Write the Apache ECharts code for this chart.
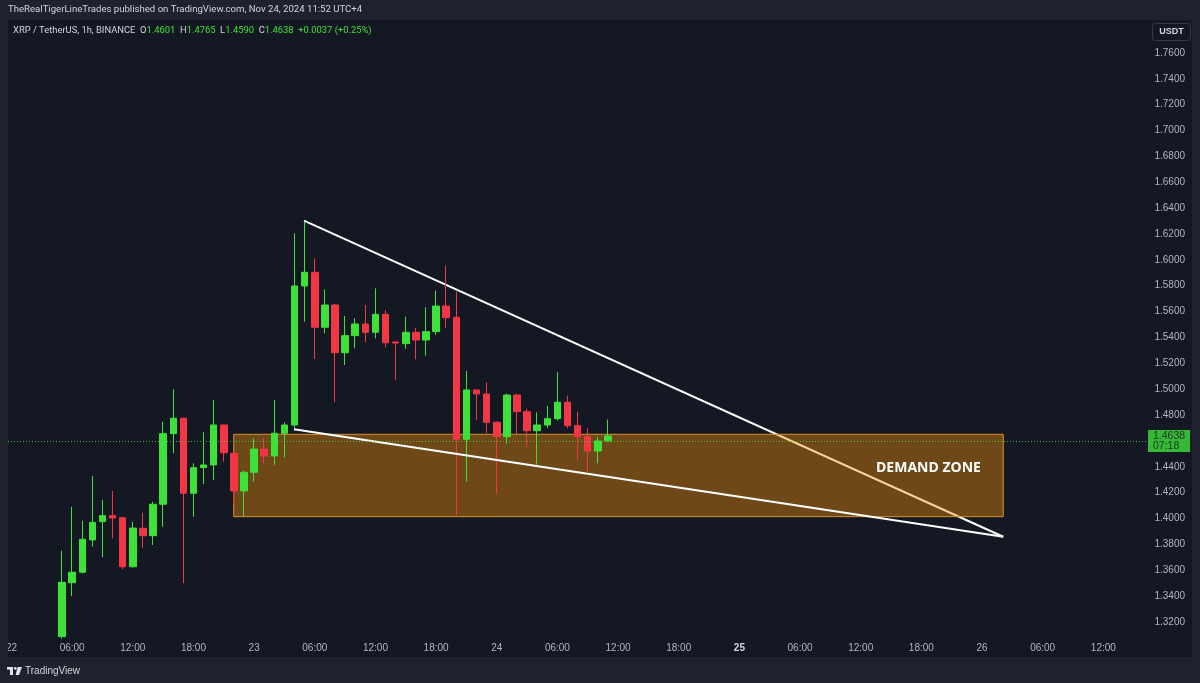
<!DOCTYPE html>
<html><head><meta charset="utf-8">
<script src="https://cdn.jsdelivr.net/npm/echarts@6/dist/echarts.min.js"></script>
<style>html,body{margin:0;padding:0;background:#1f222c}#c{width:1200px;height:683px}</style>
</head><body><div id="c"></div>
<script>
// ---- data (hours counted from Nov 22 00:00, UTC+4) ----
const hours  = [5,6,7,8,9,10,11,12,13,14,15,16,17,18,19,20,21,22,23,24,25,26,27,28,29,30,31,32,33,34,35,36,37,38,39,40,41,42,43,44,45,46,47,48,49,50,51,52,53,54,55,56,57,58,59];
const opens  = [1.3086,1.3503,1.3584,1.3834,1.3975,1.4022,1.4006,1.3627,1.3924,1.3867,1.4110,1.4656,1.4775,1.4195,1.4393,1.4414,1.4723,1.4504,1.4213,1.4357,1.4537,1.4483,1.4659,1.4723,1.5798,1.5904,1.5479,1.5651,1.5282,1.5414,1.5504,1.5440,1.5579,1.5365,1.5352,1.5440,1.5380,1.5445,1.5643,1.5556,1.4612,1.4994,1.4963,1.4744,1.4632,1.4955,1.4826,1.4679,1.4723,1.4772,1.4899,1.4718,1.4632,1.4522,1.4601];
const closes = [1.3506,1.3584,1.3839,1.3970,1.4022,1.4004,1.3627,1.3926,1.3867,1.4110,1.4656,1.4775,1.4195,1.4393,1.4414,1.4723,1.4509,1.4213,1.4357,1.4537,1.4483,1.4659,1.4723,1.5798,1.5904,1.5479,1.5651,1.5282,1.5414,1.5504,1.5440,1.5579,1.5359,1.5357,1.5440,1.5380,1.5445,1.5643,1.5553,1.4612,1.4994,1.4963,1.4744,1.4632,1.4955,1.4826,1.4679,1.4723,1.4772,1.4899,1.4718,1.4632,1.4522,1.4599,1.4638];
const lows   = [1.3070,1.3400,1.3575,1.3782,1.3700,1.3847,1.3607,1.3620,1.3774,1.3795,1.3936,1.4504,1.3499,1.4014,1.4267,1.4298,1.4439,1.4117,1.4019,1.4284,1.4427,1.4414,1.4473,1.4700,1.5522,1.5233,1.5432,1.4899,1.5187,1.5316,1.5363,1.5393,1.5324,1.5071,1.5311,1.5231,1.5259,1.5419,1.5475,1.4027,1.4284,1.4762,1.4659,1.4195,1.4581,1.4653,1.4551,1.4414,1.4700,1.4757,1.4697,1.4452,1.4362,1.4427,1.4590];
const highs  = [1.3751,1.4091,1.3983,1.4329,1.4143,1.4213,1.4010,1.3975,1.4045,1.4130,1.4748,1.4999,1.4780,1.4427,1.4667,1.4916,1.4725,1.4510,1.4370,1.4620,1.4623,1.4916,1.4744,1.6206,1.6295,1.6012,1.5772,1.5660,1.5566,1.5548,1.5651,1.5780,1.5612,1.5370,1.5561,1.5475,1.5633,1.5762,1.5955,1.5754,1.5141,1.4998,1.5053,1.4750,1.4965,1.4965,1.4847,1.4821,1.4870,1.5131,1.4950,1.4826,1.4697,1.4632,1.4765];

const xTickHours  = [0,6,12,18,24,30,36,42,48,54,60,66,72,78,84,90,96,102,108];
const xTickLabels = ['22','06:00','12:00','18:00','23','06:00','12:00','18:00','24','06:00','12:00','18:00','25','06:00','12:00','18:00','26','06:00','12:00'];
const yTickValues = [1.32,1.34,1.36,1.38,1.40,1.42,1.44,1.48,1.50,1.52,1.54,1.56,1.58,1.60,1.62,1.64,1.66,1.68,1.70,1.72,1.74,1.76];

const upperLineHours  = [28.93, 98.1];
const upperLinePrices = [1.6303, 1.3859];
const lowerLineHours  = [27.94, 98.1];
const lowerLinePrices = [1.4690, 1.3859];
const zoneHours  = [21.98, 98.1];
const zonePrices = [1.4014, 1.4651];
const zoneLabelPos = [90.70, 1.4388];
const lastPrice = 1.4638;
const countdown = '07:18';

// ---- styles ----
const GREEN = '#3ee03a', RED = '#f23645', TXT = '#b2b5be';
const FONT = 'Liberation Sans, Arial, sans-serif';
const HFONT = 'Roboto, Liberation Sans, sans-serif';

const chart = echarts.init(document.getElementById('c'), null, {renderer: 'canvas', width: 1200, height: 683});
const candleData = hours.map((h, i) => [h, opens[i], closes[i], lows[i], highs[i]]);
const upperData = upperLineHours.map((h, i) => [h, upperLinePrices[i]]);
const lowerData = lowerLineHours.map((h, i) => [h, lowerLinePrices[i]]);

const option = {
  backgroundColor: '#141823',
  animation: false,
  textStyle: {fontFamily: FONT},
  grid: {left: 8, right: 53, top: 20, bottom: 46},
  xAxis: {
    type: 'value', min: -0.346, max: 112.32,
    splitLine: {show: false}, axisLine: {show: false}, axisTick: {show: false},
    axisLabel: {
      customValues: xTickHours, color: TXT, fontSize: 10, margin: 6, fontFamily: FONT,
      formatter: v => {
        const i = xTickHours.indexOf(Math.round(v));
        const s = i >= 0 ? xTickLabels[i] : '';
        return s === '25' ? '{b|' + s + '}' : s;
      },
      rich: {b: {fontWeight: 'bold', color: '#d1d4dc', fontSize: 10, fontFamily: FONT}}
    }
  },
  yAxis: {
    type: 'value', position: 'right', min: 1.30834, max: 1.78552,
    splitLine: {show: false}, axisLine: {show: false}, axisTick: {show: false},
    axisLabel: {customValues: yTickValues, formatter: v => v.toFixed(4), align: 'right', margin: 38,
      color: TXT, fontSize: 10, fontFamily: FONT}
  },
  series: [
    {
      type: 'line', data: upperData, symbol: 'none', z: 0, silent: true,
      lineStyle: {color: '#ffffff', width: 2},
      markArea: {
        silent: true, z: 1,
        itemStyle: {color: 'rgba(245,148,5,0.40)', borderColor: '#d99028', borderWidth: 1},
        data: [[{coord: [zoneHours[0], zonePrices[1]]}, {coord: [zoneHours[1], zonePrices[0]]}]]
      }
    },
    {
      type: 'candlestick', data: candleData, z: 2, barWidth: 7,
      encode: {x: 0, y: [1, 2, 3, 4]},
      itemStyle: {color: GREEN, color0: RED, borderColor: GREEN, borderColor0: RED, borderWidth: 1},
      markLine: {
        silent: true, symbol: ['none', 'none'], z: 5,
        lineStyle: {type: [1, 2], color: GREEN, width: 1, opacity: 0.8},
        label: {
          position: 'end', distance: 1, formatter: lastPrice.toFixed(4) + '\n' + countdown,
          backgroundColor: GREEN, color: '#131722', fontSize: 10.5, lineHeight: 10,
          padding: [1, 5], align: 'left', fontFamily: FONT
        },
        data: [{yAxis: lastPrice}]
      }
    },
    {
      type: 'line', data: lowerData, symbol: 'none', z: 3, silent: true,
      lineStyle: {color: '#ffffff', width: 2},
      markPoint: {
        silent: true, z: 6,
        symbol: 'circle', symbolSize: 1, itemStyle: {color: 'rgba(0,0,0,0)'},
        label: {show: true, position: 'inside', formatter: 'DEMAND ZONE', color: '#ffffff',
          fontWeight: 'bold', fontSize: 14, fontFamily: 'Open Sans, sans-serif'},
        data: [{coord: zoneLabelPos}]
      }
    }
  ],
  graphic: [
    {type: 'rect', shape: {x: 0, y: 0, width: 1200, height: 20}, style: {fill: '#1f222c'}, z: 10},
    {type: 'rect', shape: {x: 0, y: 0, width: 8, height: 683}, style: {fill: '#1f222c'}, z: 10},
    {type: 'rect', shape: {x: 1192, y: 0, width: 8, height: 683}, style: {fill: '#1f222c'}, z: 10},
    {type: 'rect', shape: {x: 0, y: 657, width: 1200, height: 26}, style: {fill: '#1f222c'}, z: 10},
    {type: 'text', x: 8, y: 10, z: 11, style: {text: 'TheRealTigerLineTrades published on TradingView.com, Nov 24, 2024 11:52 UTC+4',
      fill: '#d1d4dc', font: '9.6px ' + HFONT, textVerticalAlign: 'middle'}},
    {type: 'text', x: 13, y: 31, z: 11, style: {
      text: '{n|XRP / TetherUS, 1h, BINANCE}  {n|O}{g|1.4601}  {n|H}{g|1.4765}  {n|L}{g|1.4590}  {n|C}{g|1.4638}  {g|+0.0037 (+0.25%)}',
      textVerticalAlign: 'middle', font: '9.4px ' + HFONT,
      rich: {n: {fill: '#d1d4dc', font: '9.4px ' + HFONT}, g: {fill: GREEN, font: '9.4px ' + HFONT}}}},
    {type: 'rect', z: 11, shape: {x: 1152.5, y: 23.5, width: 38, height: 17, r: 3},
      style: {fill: 'none', stroke: '#363a45', lineWidth: 1}},
    {type: 'text', x: 1171.5, y: 32, z: 12, style: {text: 'USDT', fill: '#d1d4dc', font: 'bold 9px ' + FONT,
      textAlign: 'center', textVerticalAlign: 'middle'}},
    // TradingView logo
    {type: 'rect', z: 11, shape: {x: 7, y: 667, width: 6, height: 2.6}, style: {fill: '#e0e3eb'}},
    {type: 'rect', z: 11, shape: {x: 10, y: 667, width: 3, height: 8}, style: {fill: '#e0e3eb'}},
    {type: 'circle', z: 11, shape: {cx: 15.3, cy: 668.4, r: 1.4}, style: {fill: '#e0e3eb'}},
    {type: 'polygon', z: 11, shape: {points: [[17.6, 667], [22, 667], [19, 675], [15.6, 675]]}, style: {fill: '#e0e3eb'}},
    {type: 'text', x: 25, y: 671, z: 11, style: {text: 'TradingView', fill: '#d1d4dc', font: '10px ' + FONT,
      textVerticalAlign: 'middle'}}
  ]
};
chart.setOption(option);
</script>
</body></html>
